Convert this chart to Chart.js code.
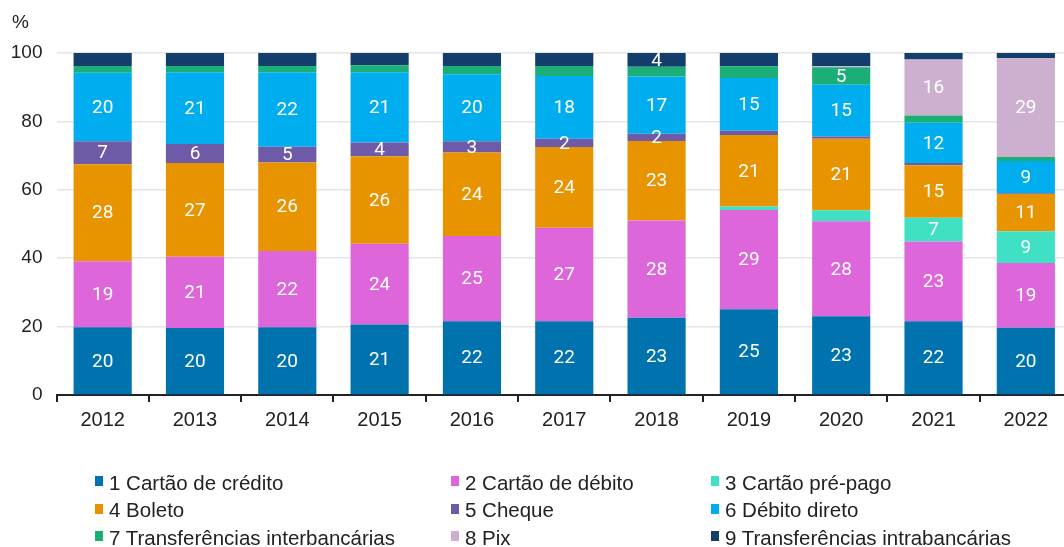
<!DOCTYPE html>
<html>
<head>
<meta charset="utf-8">
<script src="https://cdn.jsdelivr.net/npm/chart.js@4.4.1/dist/chart.umd.min.js"></script>
<style>
  html, body { margin: 0; padding: 0; background: #fff; overflow: hidden; width: 1064px; height: 547px; }
  #wrap { position: relative; width: 1064px; height: 547px; overflow: hidden; }
  #chart { position: absolute; left: 0; top: 0; }
  #pct { position: absolute; left: 12px; top: 11px; font: 19px "Liberation Sans", Arial, sans-serif; color: #222; }
  #legend {
    position: absolute; left: 95px; top: 469px;
    display: grid; grid-template-columns: 356px 260px 360px; grid-auto-rows: 27.5px;
    font: 20.5px "Liberation Sans", Arial, sans-serif; color: #222;
  }
  #legend div { display: flex; align-items: center; white-space: nowrap; }
  #legend span.box { display: inline-block; width: 8px; height: 10px; margin-right: 6px; margin-top: -3px; }
</style>
</head>
<body>
<div id="wrap">
  <canvas id="chart" width="1080" height="547"></canvas>
  <div id="pct">%</div>
  <div id="legend"></div>
</div>
<script>
  // === DADOS ===
  const anos = ['2012', '2013', '2014', '2015', '2016', '2017', '2018', '2019', '2020', '2021', '2022'];

  const cartaoCredito = [19.8, 19.6, 19.8, 20.6, 21.6, 21.6, 22.6, 25.1, 23.0, 21.6, 19.7];
  const cartaoDebito = [19.3, 20.8, 22.3, 23.6, 24.9, 27.3, 28.4, 29.0, 27.8, 23.3, 18.9];
  const cartaoPrePago = [0, 0, 0, 0, 0, 0, 0, 1.0, 3.2, 6.9, 9.3];
  const boleto = [28.4, 27.4, 25.9, 25.6, 24.4, 23.6, 23.3, 20.9, 20.9, 15.4, 10.9];
  const cheque = [6.7, 5.6, 4.6, 4.0, 3.3, 2.4, 2.1, 1.3, 0.7, 0.6, 0.2];
  const debitoDireto = [20.0, 21.0, 21.8, 20.6, 19.6, 18.4, 16.7, 15.4, 15.1, 11.8, 9.4];
  const interbancarias = [2.0, 1.8, 1.8, 2.0, 2.4, 2.9, 2.9, 3.4, 5.1, 2.1, 1.2];
  const pix = [0, 0, 0, 0, 0, 0, 0, 0, 0.3, 16.4, 28.9];
  const intrabancarias = [3.8, 3.8, 3.8, 3.6, 3.8, 3.8, 4.0, 3.9, 3.9, 1.9, 1.5];

  const series = [
    ['1 Cartão de crédito', cartaoCredito, '#0072ae', 2],
    ['2 Cartão de débito', cartaoDebito, '#dc66da', 2],
    ['3 Cartão pré-pago', cartaoPrePago, '#40e0c4', 4],
    ['4 Boleto', boleto, '#e89400', 2],
    ['5 Cheque', cheque, '#6e5ba8', 2],
    ['6 Débito direto', debitoDireto, '#00aeef', 2],
    ['7 Transferências interbancárias', interbancarias, '#1bae77', 4],
    ['8 Pix', pix, '#cdb0cf', 4],
    ['9 Transferências intrabancárias', intrabancarias, '#133d6b', 4]
  ];

  // rótulos brancos dentro das barras
  const rotulosBarras = {
    id: 'rotulosBarras',
    afterDatasetsDraw(chart) {
      const ctx = chart.ctx;
      ctx.save();
      ctx.font = '19px Roboto';
      ctx.fillStyle = '#fff';
      ctx.textAlign = 'center';
      ctx.textBaseline = 'middle';
      chart.data.datasets.forEach((ds, i) => {
        const meta = chart.getDatasetMeta(i);
        meta.data.forEach((bar, j) => {
          const v = ds.data[j];
          if (v < series[i][3]) return;
          ctx.fillText(String(Math.round(v)), bar.x, (bar.y + bar.base) / 2 + 1);
        });
      });
      ctx.restore();
    }
  };

  new Chart(document.getElementById('chart'), {
    type: 'bar',
    data: {
      labels: anos,
      datasets: series.map(s => ({
        label: s[0],
        data: s[1],
        backgroundColor: s[2],
        borderWidth: 0,
        barPercentage: 0.63,
        categoryPercentage: 1
      }))
    },
    options: {
      responsive: false,
      animation: false,
      layout: { padding: { top: 53, right: 8, left: 0, bottom: 0 } },
      plugins: { legend: { display: false }, tooltip: { enabled: false } },
      scales: {
        x: {
          stacked: true,
          grid: { offset: true, drawOnChartArea: false, drawTicks: true, tickLength: 7, color: '#222', lineWidth: 2 },
          border: { display: true, color: '#222', width: 2 },
          ticks: { color: '#222', font: { family: 'Liberation Sans', size: 20 }, padding: 6 },
          afterFit: s => { s.height = 152; }
        },
        y: {
          stacked: true,
          min: 0,
          max: 100,
          ticks: { stepSize: 20, color: '#222', font: { family: 'Liberation Sans', size: 19 }, padding: 14 },
          grid: { color: '#e4e4e4', lineWidth: 1.5, drawTicks: false },
          border: { display: false },
          afterFit: s => { s.width = 56.5; }
        }
      }
    },
    plugins: [rotulosBarras]
  });

  // === LEGENDA ===
  const legenda = document.getElementById('legend');
  series.forEach(s => {
    const item = document.createElement('div');
    item.innerHTML = '<span class="box" style="background:' + s[2] + '"></span>' + s[0];
    legenda.appendChild(item);
  });
</script>
</body>
</html>
